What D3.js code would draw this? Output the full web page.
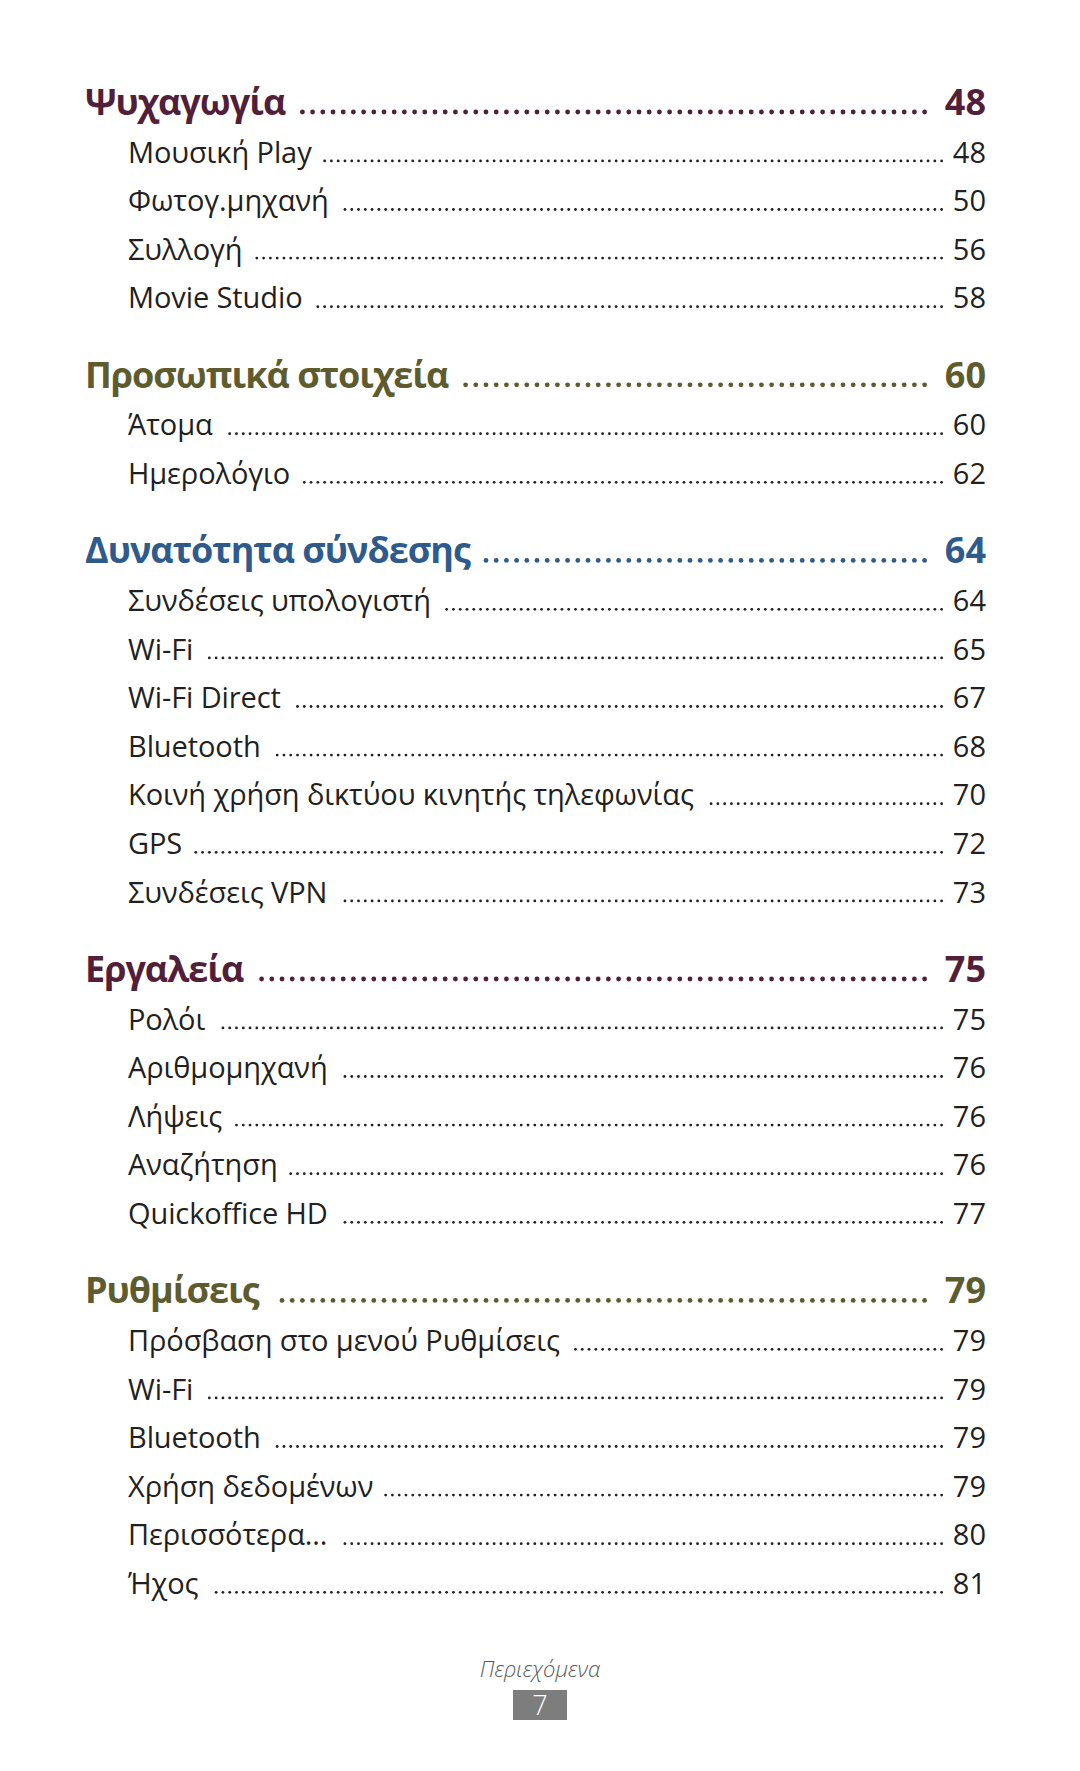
<!DOCTYPE html>
<html>
<head>
<meta charset="utf-8">
<script src="https://cdn.jsdelivr.net/npm/d3@7"></script>
<style>
  html, body { margin: 0; padding: 0; background: #ffffff; }
  svg { display: block; }
</style>
</head>
<body>
<svg id="page" width="1080" height="1771"></svg>
<script>
// ---- data ----
const headings = ["Ψυχαγωγία", "Προσωπικά στοιχεία", "Δυνατότητα σύνδεσης", "Εργαλεία", "Ρυθμίσεις"];
const headingPages = [48, 60, 64, 75, 79];
const headingColors = ["#521f3a", "#5e5c2f", "#2f5b8c", "#521f3a", "#5e5c2f"];
const itemLabels = [
  ["Μουσική Play", "Φωτογ.μηχανή", "Συλλογή", "Movie Studio"],
  ["Άτομα", "Ημερολόγιο"],
  ["Συνδέσεις υπολογιστή", "Wi-Fi", "Wi-Fi Direct", "Bluetooth", "Κοινή χρήση δικτύου κινητής τηλεφωνίας", "GPS", "Συνδέσεις VPN"],
  ["Ρολόι", "Αριθμομηχανή", "Λήψεις", "Αναζήτηση", "Quickoffice HD"],
  ["Πρόσβαση στο μενού Ρυθμίσεις", "Wi-Fi", "Bluetooth", "Χρήση δεδομένων", "Περισσότερα...", "Ήχος"]
];
const itemPages = [
  [48, 50, 56, 58],
  [60, 62],
  [64, 65, 67, 68, 70, 72, 73],
  [75, 76, 76, 76, 77],
  [79, 79, 79, 79, 80, 81]
];
const footerLabel = "Περιεχόμενα";
const pageNumber = "7";

// ---- layout ----
const svg = d3.select("#page");
const FONT = "'Open Sans', 'Noto Sans', 'DejaVu Sans', sans-serif";
const TEXT = "#231f20";
const LINE = 48.6;
const firstItemUnits = 47.5 / LINE;
const sectionGapUnits = 79.5 / LINE;

// build rows in "line units"
const rows = [];
let u = 0;
headings.forEach((h, s) => {
  if (s > 0) u += sectionGapUnits;
  rows.push({type: "head", label: h, page: headingPages[s], color: headingColors[s], u});
  itemLabels[s].forEach((lab, i) => {
    u += (i === 0 ? firstItemUnits : 1);
    rows.push({type: "item", label: lab, page: itemPages[s][i], color: TEXT, u});
  });
});

const y = d3.scaleLinear().domain([0, 1]).range([115, 115 + LINE]);
const x = d3.scaleLinear().domain([0, 1]).range([0, 1]);

const style = {
  head: {x: 85, size: 36, weight: 700, dotEnd: 927, dotR: 2.4, dotStep: 10.2, dotDy: -3, minGap: 11, ls: "-1px"},
  item: {x: 128, size: 29, weight: 400, dotEnd: 943, dotR: 1.4, dotStep: 6.78, dotDy: -1.6, minGap: 10, ls: "-0.1px"}
};
const numRight = 986;

const g = svg.append("g");
const rowG = g.selectAll("g.row").data(rows).join("g").attr("class", "row")
  .attr("transform", d => `translate(0,${y(d.u)})`);

rowG.append("text")
  .attr("x", d => x(style[d.type].x))
  .attr("y", 0)
  .attr("font-family", FONT)
  .attr("font-size", d => style[d.type].size)
  .attr("font-weight", d => style[d.type].weight)
  .attr("letter-spacing", d => style[d.type].ls)
  .attr("fill", d => d.color)
  .text(d => d.label)
  .each(function(d) { d.textEnd = style[d.type].x + this.getComputedTextLength(); });

rowG.append("text")
  .attr("x", x(numRight))
  .attr("y", 0)
  .attr("text-anchor", "end")
  .attr("font-family", FONT)
  .attr("font-size", d => style[d.type].size)
  .attr("font-weight", d => style[d.type].weight)
  .attr("fill", d => d.color)
  .text(d => d.page);

rowG.each(function(d) {
  const st = style[d.type];
  const dots = [];
  for (let cx = st.dotEnd - st.dotR; cx - st.dotR >= d.textEnd + st.minGap; cx -= st.dotStep) dots.push(cx);
  d3.select(this).selectAll("circle").data(dots).join("circle")
    .attr("cx", c => x(c))
    .attr("cy", st.dotDy)
    .attr("r", st.dotR)
    .attr("fill", d.color);
});

// ---- footer ----
svg.append("text")
  .attr("x", 540).attr("y", 1677)
  .attr("text-anchor", "middle")
  .attr("font-family", FONT)
  .attr("font-size", 22)
  .attr("font-style", "italic")
  .attr("font-weight", 300)
  .attr("fill", "#5a5a5a")
  .text(footerLabel);

svg.append("rect")
  .attr("x", 513).attr("y", 1690).attr("width", 54).attr("height", 30)
  .attr("fill", "#7d7d7d");

svg.append("text")
  .attr("x", 540).attr("y", 1715)
  .attr("text-anchor", "middle")
  .attr("font-family", FONT)
  .attr("font-size", 27)
  .attr("font-weight", 300)
  .attr("fill", "#ffffff")
  .text(pageNumber);
</script>
</body>
</html>
